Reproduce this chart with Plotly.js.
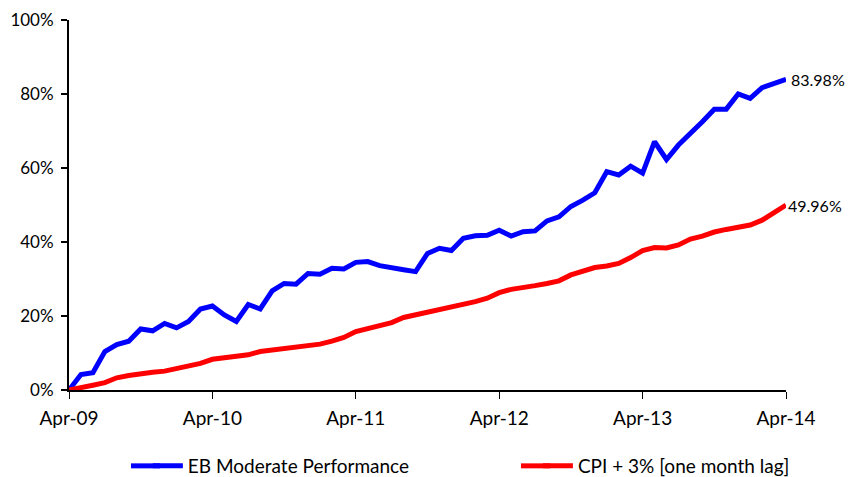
<!DOCTYPE html>
<html>
<head>
<meta charset="utf-8">
<script src="https://cdn.plot.ly/plotly-3.0.1.min.js"></script>
<style>
  html, body { margin: 0; padding: 0; background: #ffffff; }
  #chart { width: 849px; height: 477px; }
</style>
</head>
<body>
<div id="chart"></div>
<script>
// Monthly categories, Apr-09 .. Apr-14
var months = [
  "Apr-09","May-09","Jun-09","Jul-09","Aug-09","Sep-09","Oct-09","Nov-09","Dec-09","Jan-10","Feb-10","Mar-10",
  "Apr-10","May-10","Jun-10","Jul-10","Aug-10","Sep-10","Oct-10","Nov-10","Dec-10","Jan-11","Feb-11","Mar-11",
  "Apr-11","May-11","Jun-11","Jul-11","Aug-11","Sep-11","Oct-11","Nov-11","Dec-11","Jan-12","Feb-12","Mar-12",
  "Apr-12","May-12","Jun-12","Jul-12","Aug-12","Sep-12","Oct-12","Nov-12","Dec-12","Jan-13","Feb-13","Mar-13",
  "Apr-13","May-13","Jun-13","Jul-13","Aug-13","Sep-13","Oct-13","Nov-13","Dec-13","Jan-14","Feb-14","Mar-14",
  "Apr-14"
];

// EB Moderate Performance (cumulative, %)
var ebModerate = [
  0.0, 4.2, 4.7, 10.4, 12.3, 13.2, 16.5, 16.0, 18.0, 16.8, 18.5, 21.9,
  22.7, 20.3, 18.5, 23.1, 21.9, 26.8, 28.8, 28.6, 31.5, 31.3, 32.9, 32.7,
  34.5, 34.7, 33.6, 32.9, 32.5, 32.0, 36.9, 38.3, 37.7, 41.0, 41.7, 41.8,
  43.2, 41.6, 42.8, 43.0, 45.7, 46.8, 49.6, 51.3, 53.3, 59.0, 58.1, 60.5,
  58.6, 67.1, 62.3, 66.2, 69.2, 72.5, 75.9, 75.9, 80.0, 78.8, 81.7, 82.9,
  83.98
];

// CPI + 3% [one month lag] (cumulative, %)
var cpiPlus3 = [
  0.0, 0.8, 1.3, 2.0, 3.3, 3.9, 4.5, 4.8, 5.1, 5.7, 6.3, 7.2,
  8.3, 8.7, 9.2, 9.5, 10.4, 10.8, 11.2, 11.5, 12.0, 12.4, 13.2, 14.2,
  15.8, 16.7, 17.6, 18.2, 19.6, 20.3, 21.0, 21.8, 22.5, 23.0, 23.9, 24.8,
  26.3, 27.2, 27.6, 28.2, 28.8, 29.5, 31.1, 32.1, 33.1, 33.5, 34.2, 35.8,
  37.7, 38.5, 38.4, 39.2, 40.8, 41.6, 42.7, 43.4, 44.0, 44.6, 45.9, 47.9,
  49.96
];

var seriesNames = ["EB Moderate Performance", "CPI + 3% [one month lag]"];
var seriesColors = ["#0000FF", "#FF0000"];
var xTickVals = ["Apr-09","Apr-10","Apr-11","Apr-12","Apr-13","Apr-14"];
var xTickText = ["Apr-09","Apr-10","Apr-11","Apr-12","Apr-13","Apr-14"];
var yTickVals = [0, 20, 40, 60, 80, 100];
var yTickText = ["0%","20%","40%","60%","80%","100%"];

var FONT = "Lato, 'Noto Sans', 'DejaVu Sans', sans-serif";

function endLabel(arr) {
  return arr[arr.length - 1].toFixed(2) + "%";
}

var traces = [
  {
    x: months, y: ebModerate, type: "scatter", mode: "lines",
    name: seriesNames[0], legend: "legend",
    line: { color: seriesColors[0], width: 5 },
    hoverinfo: "skip"
  },
  {
    x: months, y: cpiPlus3, type: "scatter", mode: "lines",
    name: seriesNames[1], legend: "legend2",
    line: { color: seriesColors[1], width: 5 },
    hoverinfo: "skip"
  }
];

var LEG_Y = -0.205;
var legendCommon = {
  orientation: "h",
  xanchor: "left",
  y: LEG_Y, yanchor: "middle",
  font: { family: FONT, size: 19, color: "#000000" },
  bgcolor: "rgba(0,0,0,0)"
};
var leg1 = Object.assign({}, legendCommon, { x: 0.11 });
var leg2 = Object.assign({}, legendCommon, { x: 0.654 });

// legend key extensions (the original draws longer line keys)
var PLOT_L = 69, PLOT_W = 717;
function px2x(p) { return (p - PLOT_L) / PLOT_W; }
function keyExt(x0px, x1px, color) {
  return {
    type: "line", xref: "paper", yref: "paper",
    x0: px2x(x0px), x1: px2x(x1px), y0: LEG_Y, y1: LEG_Y,
    line: { color: color, width: 5 }
  };
}

var layout = {
  width: 849, height: 477,
  margin: { l: 69, r: 63, t: 20, b: 87, autoexpand: false },
  paper_bgcolor: "#ffffff",
  plot_bgcolor: "#ffffff",
  font: { family: FONT, color: "#000000" },
  showlegend: true,
  legend: leg1,
  legend2: leg2,
  shapes: [
    keyExt(131, 160, seriesColors[0]),
    keyExt(521, 550, seriesColors[1])
  ],
  xaxis: {
    type: "category",
    range: [0, months.length - 1],
    tickmode: "array",
    tickvals: xTickVals,
    ticktext: xTickText,
    ticks: "outside", ticklen: 7, tickwidth: 1, tickcolor: "#000000",
    ticklabelstandoff: 4,
    showline: true, linecolor: "#000000", linewidth: 1.5,
    showgrid: false, zeroline: false,
    tickfont: { family: FONT, size: 19, color: "#000000" },
    fixedrange: true
  },
  yaxis: {
    range: [0, 100],
    tickmode: "array",
    tickvals: yTickVals,
    ticktext: yTickText,
    ticks: "outside", ticklen: 6, tickwidth: 2, tickcolor: "#000000",
    ticklabelstandoff: 4,
    showline: true, linecolor: "#000000", linewidth: 2,
    showgrid: false, zeroline: false,
    tickfont: { family: FONT, size: 17, color: "#000000" },
    fixedrange: true
  },
  annotations: [
    {
      x: months[months.length - 1], y: ebModerate[ebModerate.length - 1],
      xref: "x", yref: "y", text: endLabel(ebModerate),
      showarrow: false, xanchor: "left", yanchor: "middle", xshift: 3,
      font: { family: FONT, size: 16, color: "#000000" }
    },
    {
      x: months[months.length - 1], y: cpiPlus3[cpiPlus3.length - 1],
      xref: "x", yref: "y", text: endLabel(cpiPlus3),
      showarrow: false, xanchor: "left", yanchor: "middle", xshift: 0,
      font: { family: FONT, size: 16, color: "#000000" }
    }
  ]
};

Plotly.newPlot("chart", traces, layout, { displayModeBar: false, staticPlot: true });
</script>
</body>
</html>
